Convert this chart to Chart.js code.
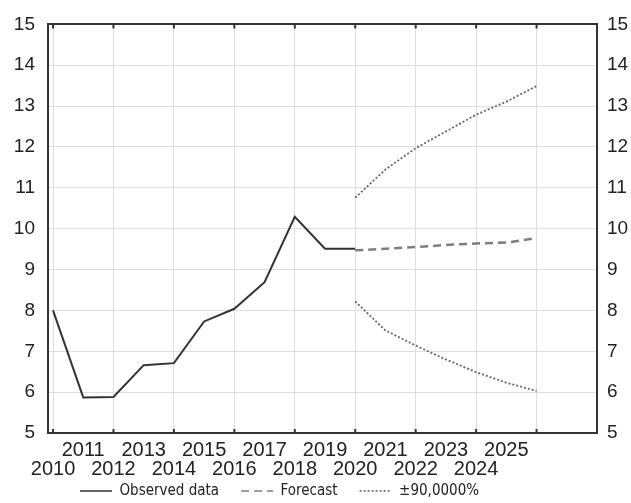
<!DOCTYPE html>
<html>
<head>
<meta charset="utf-8">
<script src="https://cdn.jsdelivr.net/npm/chart.js@4.4.1/dist/chart.umd.min.js"></script>
<style>
  html, body { margin: 0; padding: 0; background: #fff; }
</style>
</head>
<body>
<canvas id="chart" width="631" height="503"></canvas>
<script>
// observed series
const obsYears  = [2010, 2011, 2012, 2013, 2014, 2015, 2016, 2017, 2018, 2019, 2020];
const obsValues = [8.0, 5.87, 5.88, 6.66, 6.71, 7.73, 8.04, 8.69, 10.29, 9.51, 9.51];

// forecast + 90% band
const fcYears     = [2020, 2021, 2022, 2023, 2024, 2025, 2026];
const fcValues    = [9.47, 9.51, 9.55, 9.60, 9.64, 9.66, 9.77];
const upperValues = [10.76, 11.45, 11.97, 12.38, 12.79, 13.11, 13.49];
const lowerValues = [8.22, 7.51, 7.14, 6.80, 6.49, 6.23, 6.03];

// axes
const tickYears  = [2010, 2011, 2012, 2013, 2014, 2015, 2016, 2017, 2018, 2019, 2020, 2021, 2022, 2023, 2024, 2025, 2026];
const labelYears = [2010, 2011, 2012, 2013, 2014, 2015, 2016, 2017, 2018, 2019, 2020, 2021, 2022, 2023, 2024, 2025];
const yTicks     = [5, 6, 7, 8, 9, 10, 11, 12, 13, 14, 15];

const seriesNames = ['Observed data', 'Forecast', '±90,0000%'];

const FONT   = "'Liberation Sans', Arial, sans-serif";
const NARROW = "'Liberation Sans Narrow', 'DejaVu Sans Condensed', sans-serif";
const INK    = '#222';
const FRAME  = '#333';
const GRID   = '#dedede';
const LEGEND_PAD  = 22;
const LEGEND_SIZE = 15;

const pts = (xs, ys) => xs.map((x, i) => ({ x, y: ys[i] }));

// small inward ticks on top/bottom frame + legend placement
const frameTicks = {
  id: 'frameTicks',
  afterLayout(chart) {
    const lg = chart.legend;
    if (!lg) return;
    const h = lg.bottom - lg.top;
    lg.left = 80 - LEGEND_PAD;                    // legend starts under the 2011 label
    lg.top = 491 - LEGEND_PAD - LEGEND_SIZE / 2;  // text centred near the bottom edge
    lg.bottom = lg.top + h;
  },
  afterDraw(chart) {
    const { ctx, chartArea: a, scales: { x } } = chart;
    ctx.save();
    ctx.strokeStyle = FRAME;
    ctx.lineWidth = 2;
    tickYears.filter(v => v % 2 === 0).forEach(v => {
      const px = x.getPixelForValue(v);
      ctx.beginPath();
      ctx.moveTo(px, a.top); ctx.lineTo(px, a.top + 4);
      ctx.moveTo(px, a.bottom); ctx.lineTo(px, a.bottom - 4);
      ctx.stroke();
    });
    ctx.restore();
  }
};

const yAxis = (position, width, pad) => ({
  type: 'linear',
  position,
  min: 5, max: 15,
  afterBuildTicks: s => { s.ticks = yTicks.map(v => ({ value: v })); },
  afterFit: s => { s.width = width; },
  border: { color: FRAME, width: 2 },
  grid: {
    display: position === 'left',
    drawTicks: false,
    color: c => (c.tick && (c.tick.value === 15 || c.tick.value === 5)) ? FRAME : GRID,
    lineWidth: c => (c.tick && c.tick.value === 15) ? 2 : 1
  },
  ticks: { padding: pad, color: INK, font: { family: FONT, size: 19 } }
});

// legend samples keep the dataset dash pattern (point-style items drop it)
const legendLabels = chart =>
  Chart.defaults.plugins.legend.labels.generateLabels(chart)
    .filter(item => item.datasetIndex < 3)
    .map(item => {
      const ds = chart.data.datasets[item.datasetIndex];
      return Object.assign(item, {
        strokeStyle: ds.borderColor,
        lineDash: ds.borderDash || [],
        lineWidth: 1.6
      });
    });

new Chart(document.getElementById('chart').getContext('2d'), {
  type: 'line',
  data: {
    datasets: [
      { label: seriesNames[0], data: pts(obsYears, obsValues),
        borderColor: '#333', borderWidth: 2, pointRadius: 0, tension: 0 },
      { label: seriesNames[1], data: pts(fcYears, fcValues),
        borderColor: '#7d7d7d', borderWidth: 2.5, borderDash: [8, 5], pointRadius: 0, tension: 0 },
      { label: seriesNames[2], data: pts(fcYears, upperValues),
        borderColor: '#666', borderWidth: 1.8, borderDash: [2, 2], pointRadius: 0, tension: 0 },
      { label: 'lower', data: pts(fcYears, lowerValues),
        borderColor: '#666', borderWidth: 1.8, borderDash: [2, 2], pointRadius: 0, tension: 0 }
    ]
  },
  options: {
    responsive: false,
    animation: false,
    events: [],
    // x axis (50) + legend (47) must fit in the 70px under the plot
    layout: { padding: { top: 22, left: 0, right: 0, bottom: -27 } },
    plugins: {
      tooltip: { enabled: false },
      legend: {
        position: 'bottom',
        align: 'start',
        labels: {
          generateLabels: legendLabels,
          usePointStyle: true,
          pointStyle: 'line',
          pointStyleWidth: 32,
          padding: LEGEND_PAD,
          color: INK,
          font: { family: NARROW, size: LEGEND_SIZE }
        }
      }
    },
    scales: {
      x: {
        type: 'linear',
        min: 2009.834, max: 2028,
        afterBuildTicks: s => { s.ticks = tickYears.map(v => ({ value: v })); },
        afterFit: s => { s.height = 50; },
        border: { color: FRAME, width: 2 },
        grid: {
          drawTicks: false,
          color: c => (c.tick && c.tick.value % 2 === 0) ? GRID : 'rgba(0,0,0,0)'
        },
        ticks: {
          autoSkip: false,
          maxRotation: 0,
          padding: 8,
          color: INK,
          font: { family: FONT, size: 20, lineHeight: 0.95 },
          callback: v => {
            if (!labelYears.includes(v)) return '';
            return v % 2 ? [String(v), ''] : ['', String(v)];
          }
        }
      },
      y: yAxis('left', 48, 13),
      y2: yAxis('right', 34, 10)
    }
  },
  plugins: [frameTicks]
});
</script>
</body>
</html>
